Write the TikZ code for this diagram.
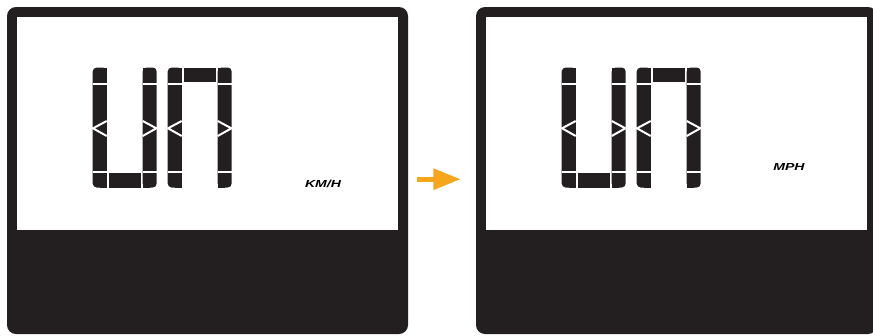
\documentclass[tikz,border=0pt]{standalone}
\usepackage{fontspec}
\usetikzlibrary{arrows.meta}
\newfontfamily\unitfont[FakeStretch=1.38]{Liberation Sans}
\definecolor{lcddark}{RGB}{35,31,32}
\definecolor{arroworange}{RGB}{247,165,27}
\tikzset{
  segcut/.style={draw=white, line width=2pt},
  unitlabel/.style={font=\unitfont\bfseries\itshape\fontsize{10.2}{12}\selectfont, inner sep=0pt, anchor=base},
  % column of a digit, rounded on the outer side
  pics/leftcol/.style={code={
    \fill[lcddark, rounded corners=4pt] (0,67.5) rectangle (14,187.5);
    \fill[lcddark] (7,67.5) rectangle (14,187.5);
    \draw[segcut] (0,83.5) -- (14,83.5);
    \draw[segcut] (0,172) -- (14,172);
    \draw[segcut] (14,121) -- (0.3,128.3) -- (14,136);
  }},
  pics/rightcol/.style={code={
    \fill[lcddark, rounded corners=4pt] (0,67.5) rectangle (14,187.5);
    \fill[lcddark] (0,67.5) rectangle (7,187.5);
    \draw[segcut] (0,83.5) -- (14,83.5);
    \draw[segcut] (0,172) -- (14,172);
    \draw[segcut] (0,121) -- (13.7,128.3) -- (0,136);
  }},
  pics/digitU/.style={code={
    \pic {leftcol};
    \pic at (50,0) {rightcol};
    \fill[lcddark] (16.4,173.2) rectangle (48,187.5);
  }},
  pics/digitN/.style={code={
    \pic {leftcol};
    \pic at (50,0) {rightcol};
    \fill[lcddark] (16.4,67.5) rectangle (48,81.8);
  }},
  pics/lcdpanel/.style={code={
    \fill[lcddark, rounded corners=9pt] (0,7) rectangle (401,334);
    \fill[white] (10,17) rectangle (391,230);
  }},
}

\begin{document}
\begin{tikzpicture}[x=1pt, y=-1pt]
    \useasboundingbox (0,0) rectangle (873,335);
    \clip (0,0) rectangle (873,335);

    % 1. Left display, km/h
    \pic at (7,0) {lcdpanel};
    \pic at (92.7,0) {digitU};
    \pic at (167.7,0) {digitN};
    \node[unitlabel] (kmh) at (323,187.3) {KM/H};

    % 2. Right display, mph
    \pic at (476,0) {lcdpanel};
    \pic at (561.7,0) {digitU};
    \pic at (636.7,0) {digitN};
    \node[unitlabel] (mph) at (789,170.7) {MPH};

    % 3. Arrow between the two displays
    \coordinate (arrowtail) at (417.3,179.2);
    \coordinate (arrowtip) at (460.7,179.2);
    \draw[line width=5pt, arroworange, -{Triangle[length=27.4pt,width=20.3pt]}] (arrowtail) -- (arrowtip);

\end{tikzpicture}
\end{document}
